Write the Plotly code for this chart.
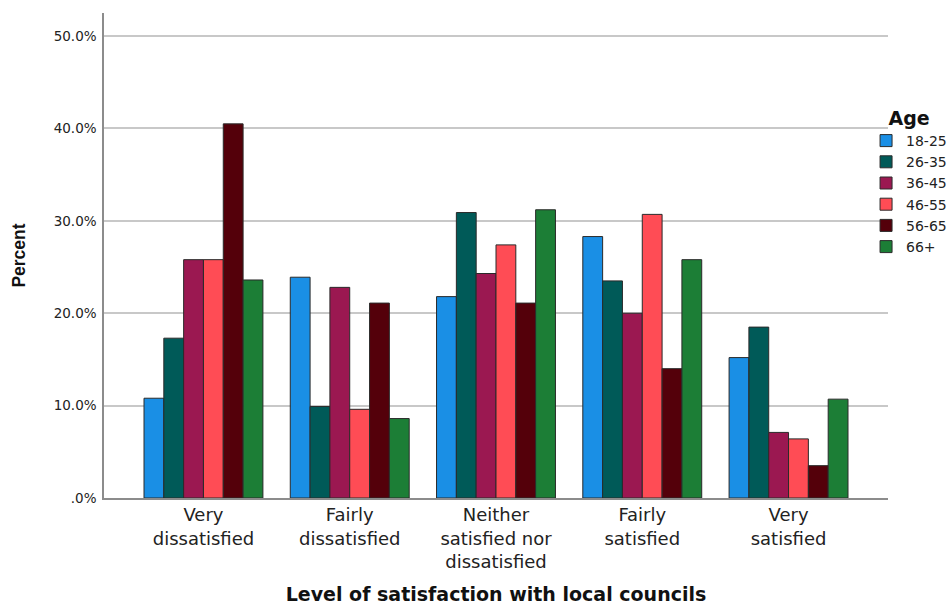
import plotly.graph_objects as go

# Satisfaction with local councils, percentage of each age group
categories = [
    "Very<br>dissatisfied",
    "Fairly<br>dissatisfied",
    "Neither<br>satisfied nor<br>dissatisfied",
    "Fairly<br>satisfied",
    "Very<br>satisfied",
]
age_groups = ["18-25", "26-35", "36-45", "46-55", "56-65", "66+"]
pct_18_25 = [10.8, 23.9, 21.8, 28.3, 15.2]
pct_26_35 = [17.3, 9.9, 30.9, 23.5, 18.5]
pct_36_45 = [25.8, 22.8, 24.3, 20.0, 7.1]
pct_46_55 = [25.8, 9.6, 27.4, 30.7, 6.4]
pct_56_65 = [40.5, 21.1, 21.1, 14.0, 3.5]
pct_66_up = [23.6, 8.6, 31.2, 25.8, 10.7]
series = [pct_18_25, pct_26_35, pct_36_45, pct_46_55, pct_56_65, pct_66_up]
colors = ["#1A8FE5", "#005A58", "#9B1851", "#FF4C55", "#54000A", "#1C7E36"]

y_ticks = [0, 10, 20, 30, 40, 50]
y_tick_text = [".0%", "10.0%", "20.0%", "30.0%", "40.0%", "50.0%"]

fig = go.Figure()
for name, vals, col in zip(age_groups, series, colors):
    fig.add_trace(go.Bar(
        name=name,
        x=categories,
        y=vals,
        marker=dict(color=col, line=dict(color="#2a2a2a", width=1)),
    ))

fig.update_layout(
    width=951,
    height=605,
    barmode="group",
    bargap=0.187,
    bargroupgap=0,
    plot_bgcolor="white",
    paper_bgcolor="white",
    margin=dict(l=104, r=63, t=13, b=107, autoexpand=False),
    font=dict(family="DejaVu Sans", color="#222222"),
    legend=dict(
        title=dict(text="<b>Age</b>", font=dict(size=19, family="DejaVu Sans", color="#111111"),
                   side="top center"),
        font=dict(size=14, family="DejaVu Sans", color="#222222"),
        x=0.972, xanchor="left",
        y=0.82, yanchor="top",
        itemwidth=30,
        bgcolor="rgba(0,0,0,0)",
        tracegroupgap=0,
    ),
    xaxis=dict(
        range=[-0.68, 4.68],
        showline=True, linecolor="#8c8c8c", linewidth=1.5,
        ticks="",
        tickfont=dict(size=18, family="DejaVu Sans", color="#222222"),
        title=dict(
            text="<b>Level of satisfaction with local councils</b>",
            font=dict(size=19, family="DejaVu Sans", color="#111111"),
            standoff=31,
        ),
    ),
    yaxis=dict(
        range=[0, 52.5],
        tickvals=y_ticks,
        ticktext=y_tick_text,
        showline=True, linecolor="#8c8c8c", linewidth=1.5,
        showgrid=True, gridcolor="#c8c8c8", gridwidth=1.5,
        zeroline=False,
        ticks="",
        ticklabelstandoff=3,
        tickfont=dict(size=13.5, family="DejaVu Sans", color="#222222"),
        title=dict(
            text="<b>Percent</b>",
            font=dict(size=17.5, family="Liberation Sans", color="#111111"),
            standoff=24,
        ),
    ),
)

fig.write_html("out.html")
